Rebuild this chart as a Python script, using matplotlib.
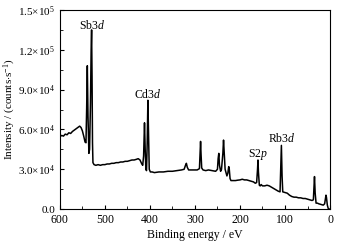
import matplotlib
matplotlib.use("Agg")
import matplotlib.pyplot as plt
from matplotlib.ticker import MultipleLocator, FixedLocator

plt.rcParams['font.family'] = ['Liberation Serif', 'DejaVu Serif']
plt.rcParams['mathtext.fontset'] = 'custom'
plt.rcParams['mathtext.rm'] = 'Liberation Serif'
plt.rcParams['mathtext.it'] = 'Liberation Serif:italic'

# XPS survey spectrum
energy = [600, 596, 592, 588, 584, 580, 576, 572, 568, 564, 560, 556, 553, 550, 547, 544, 542,
          540.5, 539, 537.5, 535.5, 534, 532, 530.5, 529.5, 528.5, 527.5, 526.5, 524,
          520, 515, 510, 505, 500, 495, 490, 485, 480, 475, 470, 465, 460, 455, 450, 445,
          440, 435, 430, 426, 422, 418, 416, 414, 412, 410.5, 409, 407.5, 406, 404.5, 403,
          401.5, 399, 395, 390, 380, 370, 360, 350, 340, 330, 324, 321, 319, 317, 314, 305,
          295, 290, 288.5, 287.5, 286.5, 285, 282, 276, 270, 262, 254, 250, 248.5, 247,
          245.5, 243, 241, 238, 236.5, 235, 233, 231, 229, 227, 225, 224, 222, 220, 215,
          210, 205, 200, 195, 190, 185, 180, 175, 170, 166, 163, 161, 160, 159, 157, 155,
          153, 150, 145, 140, 135, 130, 125, 120, 115, 111, 109.5, 108, 106.5, 105, 100,
          95, 90, 85, 80, 75, 70, 65, 60, 55, 50, 45, 40, 37, 35.5, 34.5, 33, 31, 28, 25,
          20, 15, 12, 10, 9, 8, 6, 4, 2, 0]
intensity = [54500, 55500, 55000, 56500, 56000, 57500, 57000, 58500, 59500, 60500, 61500, 62500,
             61500, 59000, 55000, 50500, 50000,
             75000, 108000, 70000, 42000, 45000, 80000, 120000, 135000, 100000, 50000, 35000, 33500,
             33000, 33500, 33000, 33500, 33500, 34000, 34000, 34500, 34500, 35000, 35000, 35500,
             35500, 36000, 36000, 36500,
             37000, 37000, 37500, 38000, 37000, 34000, 33000, 40000, 65000, 45000, 30000, 29000,
             50000, 82000, 55000,
             30000, 28000, 28000, 27500, 28000, 28000, 28500, 28500, 29000, 29500, 30000, 33000,
             34500, 31500, 29500, 29500,
             29500, 30500, 42000, 51000, 42000, 31000, 29500, 29000, 29500, 29000, 28500, 30000,
             38000, 42000,
             33000, 28500, 30000, 42000, 52000, 42000, 30000, 27500, 25000, 27000, 32000, 31000,
             23000, 21500, 21500,
             21500, 21800, 22000, 22500, 22000, 22000, 21500, 21000, 20500, 19500, 20000, 30000,
             37000, 28000, 18000, 17500,
             18500, 17500, 17500, 18000, 17500, 16500, 15500, 14500, 13500, 13000, 30000, 48000,
             25000, 13000, 12500,
             12000, 10500, 9500, 9000, 9000, 8500, 8500, 8000, 8000, 7500, 7000, 6500, 7000,
             18000, 24500, 12000, 4500, 4500, 4000,
             3500, 3000, 4000, 8500, 10500, 9000, 3000, 500, 0, 0]

peak_labels = ['Sb3$\\it{d}$', 'Cd3$\\it{d}$', 'S2$\\it{p}$', 'Rb3$\\it{d}$']
label_energy = [528, 404, 160, 108]
label_intensity = [136000, 83500, 39500, 50500]

y_ticks = [0, 30000, 60000, 90000, 120000, 150000]
y_tick_labels = ['0.0', '3.0$\\times$10$^4$', '6.0$\\times$10$^4$', '9.0$\\times$10$^4$',
                 '1.2$\\times$10$^5$', '1.5$\\times$10$^5$']

fig = plt.figure(figsize=(3.42, 2.44), dpi=100)
ax = fig.add_axes([0.175, 0.143, 0.79, 0.816])

ax.plot(energy, intensity, color='black', linewidth=1.1)

for txt, e, i in zip(peak_labels, label_energy, label_intensity):
    ax.text(e, i, txt, ha='center', va='baseline', fontsize=8.5)

ax.set_xlim(600, 0)
ax.set_ylim(0, 150000)
ax.xaxis.set_major_locator(MultipleLocator(100))
ax.xaxis.set_minor_locator(MultipleLocator(50))
ax.yaxis.set_major_locator(FixedLocator(y_ticks))
ax.yaxis.set_minor_locator(MultipleLocator(15000))
ax.set_yticklabels(y_tick_labels)

ax.tick_params(which='both', direction='in', top=False, right=False)
ax.tick_params(axis='x', labelsize=8.5)
ax.tick_params(axis='y', labelsize=8)
ax.tick_params(which='major', length=3)
ax.tick_params(which='minor', length=2)

ax.set_xlabel('Binding energy / eV', fontsize=8.5, labelpad=2)
ax.set_ylabel('Intensity / (counts$\\cdot$s$^{-1}$)', fontsize=8)
ax.yaxis.set_label_coords(-0.155, 0.5)

for s in ax.spines.values():
    s.set_linewidth(0.8)

fig.savefig('out.png', dpi=100)
